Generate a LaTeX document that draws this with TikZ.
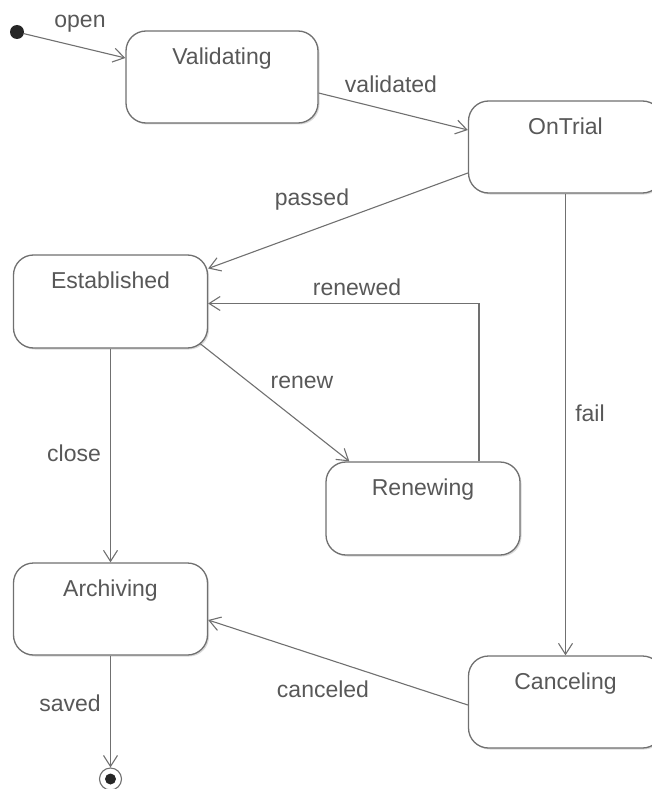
\documentclass[tikz,border=0pt]{standalone}
\usepackage{fontspec}
\setmainfont{Liberation Sans}
\usetikzlibrary{arrows.meta,calc,shadows}
\definecolor{ln}{HTML}{707070}
\definecolor{tx}{HTML}{585858}
\begin{document}
\begin{tikzpicture}[x=1pt,y=-1pt,
  state/.style={draw=ln, line width=1.3pt, rounded corners=20pt,
    minimum width=194pt, minimum height=92pt, inner sep=0pt, fill=white,
    general shadow={fill=black!15, shadow xshift=1.5pt, shadow yshift=-1.5pt}},
  stext/.style={anchor=base, yshift=-34pt, inner sep=0pt, text=tx,
    font=\fontsize{23}{27}\selectfont},
  tr/.style={draw=ln, line width=1.1pt,
    -{Straight Barb[length=11pt,width=14pt,line width=1.1pt]}},
  lbl/.style={anchor=base, inner sep=0pt, text=tx,
    font=\fontsize{23}{27}\selectfont}]
\useasboundingbox (0,0) rectangle (652,789);

% states
\node[state, minimum width=192pt, label={[stext]north:Validating}] (val) at (222,77) {};
\node[state, label={[stext]north:OnTrial}] (ot) at (565.5,147) {};
\node[state, minimum height=93pt, label={[stext]north:Established}] (est) at (110.5,301.5) {};
\node[state, minimum height=93pt, label={[stext]north:Renewing}] (ren) at (423,508.5) {};
\node[state, label={[stext]north:Archiving}] (arc) at (110.5,609) {};
\node[state, label={[stext]north:Canceling}] (can) at (565.5,702) {};

% pseudo states
\node[circle, fill=black!85, minimum size=14pt, inner sep=0pt] (init) at (17,32) {};
\node[circle, draw=ln, line width=1.1pt, minimum size=22pt, inner sep=0pt] (fin) at (110.5,779) {};
\node[circle, fill=black!85, minimum size=11pt, inner sep=0pt] (findot) at (fin) {};

% transitions
\draw[tr] (init) -- ($(val.west)+(0,-19)$);
\draw[tr] ($(val.east)+(0,16)$) -- ($(ot.west)+(0,-17)$);
\draw[tr] ($(ot.west)+(0,26)$) -- ($(est.east)+(0,-33)$);
\draw[tr] ($(ren.north)+(56,0)$) |- ($(est.east)+(0,2)$);
\draw[tr] ($(est.south east)+(-8,-5)$) -- ($(ren.north west)+(24,0)$);
\draw[tr] (est.south) -- (arc.north);
\draw[tr] (ot.south) -- (can.north);
\draw[tr] ($(can.west)+(0,3)$) -- ($(arc.east)+(0,11)$);
\draw[tr] (arc.south) -- (fin.north);

% labels
\node[lbl] (lopen) at (80,28) {open};
\node[lbl] (lval) at (391,93) {validated};
\node[lbl] (lpass) at (312,205) {passed};
\node[lbl] (lrenewed) at (357,295) {renewed};
\node[lbl] (lrenew) at (302,388) {renew};
\node[lbl] (lclose) at (74,461) {close};
\node[lbl] (lfail) at (590,421) {fail};
\node[lbl] (lcanc) at (323,697) {canceled};
\node[lbl] (lsaved) at (70,711) {saved};
\end{tikzpicture}
\end{document}
